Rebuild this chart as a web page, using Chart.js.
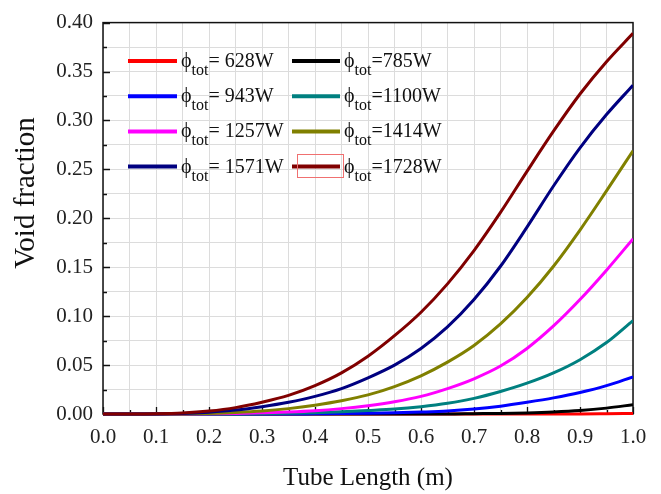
<!DOCTYPE html>
<html>
<head>
<meta charset="utf-8">
<script src="https://cdn.jsdelivr.net/npm/chart.js@4.4.0/dist/chart.umd.min.js"></script>
<style>
  html, body { margin: 0; padding: 0; background: #fff; }
</style>
</head>
<body>
<canvas id="chart" width="661" height="494"></canvas>
<script>
// tube length (m), sampled every 0.05
const lengths = [0, 0.05, 0.1, 0.15, 0.2, 0.25, 0.3, 0.35, 0.4, 0.45, 0.5,
                 0.55, 0.6, 0.65, 0.7, 0.75, 0.8, 0.85, 0.9, 0.95, 1.0];

const legendLabels = ['= 628W', '=785W', '= 943W', '=1100W', '= 1257W', '=1414W', '= 1571W', '=1728W'];

// void fraction for each total heat input
const p628  = [0, 0, 0, 0, 0, 0, 0, 0, 0, 0, 0, 0, 0, 0, 0, 0, 0, 0, 0, 0.0002, 0.0005];
const p785  = [0, 0, 0, 0, 0, 0, 0, 0, 0, 0, 0, 0, 0, 0, 0.0003, 0.0006, 0.0011, 0.002, 0.0035, 0.006, 0.0095];
const p943  = [0, 0, 0, 0, 0, 0, 0, 0, 0.0002, 0.0004, 0.0008, 0.0013, 0.002, 0.003, 0.005, 0.008, 0.012, 0.0165, 0.022, 0.029, 0.038];
const p1100 = [0, 0, 0, 0, 0, 0.0001, 0.0003, 0.0007, 0.0013, 0.0022, 0.0035, 0.005, 0.0075, 0.011, 0.016, 0.023, 0.0315, 0.042, 0.0555, 0.073, 0.0955];
const p1257 = [0, 0, 0, 0, 0.0002, 0.0006, 0.0012, 0.002, 0.0033, 0.0055, 0.0085, 0.0125, 0.018, 0.026, 0.036, 0.049, 0.067, 0.09, 0.117, 0.147, 0.179];
const p1414 = [0, 0, 0, 0.0001, 0.0006, 0.0015, 0.003, 0.0055, 0.009, 0.0135, 0.0195, 0.028, 0.039, 0.053, 0.070, 0.092, 0.119, 0.151, 0.188, 0.228, 0.269];
const p1571 = [0, 0, 0, 0.0004, 0.0018, 0.004, 0.0075, 0.012, 0.018, 0.026, 0.037, 0.050, 0.067, 0.089, 0.117, 0.151, 0.191, 0.233, 0.272, 0.306, 0.336];
const p1728 = [0, 0, 0.0002, 0.001, 0.003, 0.0065, 0.012, 0.019, 0.029, 0.042, 0.059, 0.080, 0.104, 0.133, 0.167, 0.206, 0.248, 0.289, 0.327, 0.360, 0.389];

const series = [p628, p785, p943, p1100, p1257, p1414, p1571, p1728];
const colors = ['#ff0000', '#000000', '#0000ff', '#008080', '#ff00ff', '#808000', '#000080', '#800000'];

const SERIF = '"Liberation Serif", "Times New Roman", serif';

function onStep(v, step) {
  const r = v / step;
  return Math.abs(r - Math.round(r)) < 1e-6;
}

// box round the plot and inward ticks on left / bottom
const framePlugin = {
  id: 'frame',
  beforeDatasetsDraw(chart) {
    const { ctx, chartArea: a, scales: { x, y } } = chart;
    ctx.save();
    ctx.strokeStyle = '#111';
    ctx.lineWidth = 1.5;
    ctx.strokeRect(a.left, a.top, a.right - a.left, a.bottom - a.top);
    ctx.lineWidth = 1.3;
    ctx.beginPath();
    y.ticks.forEach(t => {
      const py = Math.round(y.getPixelForValue(t.value)) + 0.5;
      const len = onStep(t.value, 0.05) ? 7 : 4;
      ctx.moveTo(a.left, py);
      ctx.lineTo(a.left + len, py);
    });
    x.ticks.forEach(t => {
      const px = Math.round(x.getPixelForValue(t.value)) + 0.5;
      const len = onStep(t.value, 0.1) ? 7 : 4;
      ctx.moveTo(px, a.bottom);
      ctx.lineTo(px, a.bottom - len);
    });
    ctx.stroke();

    // y title sits a little above the plot centre in the original
    ctx.fillStyle = '#111';
    ctx.font = '29px ' + SERIF;
    ctx.textAlign = 'center';
    ctx.textBaseline = 'middle';
    ctx.translate(26, 193);
    ctx.rotate(-Math.PI / 2);
    ctx.fillText('Void fraction', 0, 0);
    ctx.restore();
  }
};

// two-column legend with subscripted label, drawn inside the plot
const legendPlugin = {
  id: 'innerLegend',
  afterDraw(chart) {
    const ctx = chart.ctx;
    const lineX = [[128, 177], [292, 340]];
    ctx.save();
    chart.data.datasets.forEach((ds, i) => {
      const col = i % 2, row = Math.floor(i / 2);
      const cy = 61 + row * 35.2;
      ctx.strokeStyle = ds.borderColor;
      ctx.lineWidth = 4;
      ctx.beginPath();
      ctx.moveTo(lineX[col][0], cy);
      ctx.lineTo(lineX[col][1], cy);
      ctx.stroke();

      let tx = lineX[col][1] + 4;
      ctx.fillStyle = '#111';
      ctx.textBaseline = 'alphabetic';
      ctx.textAlign = 'left';
      ctx.font = '20px ' + SERIF;
      ctx.fillText('\u03d5', tx, cy + 6);
      tx += ctx.measureText('\u03d5').width;
      ctx.font = '16px ' + SERIF;
      ctx.fillText('tot', tx, cy + 14);
      tx += ctx.measureText('tot').width;
      ctx.font = '20px ' + SERIF;
      ctx.fillText(legendLabels[i], tx, cy + 6);
    });
    // selection box left round the last sample
    ctx.strokeStyle = '#f07070';
    ctx.lineWidth = 1;
    ctx.strokeRect(297.5, 154.5, 46, 23);
    ctx.restore();
  }
};

const datasets = series.map((vals, i) => ({
  label: legendLabels[i],
  data: lengths.map((x, j) => ({ x: x, y: vals[j] })),
  borderColor: colors[i],
  backgroundColor: colors[i],
  borderWidth: 3,
  pointRadius: 0,
  fill: false,
  cubicInterpolationMode: 'monotone',
  order: series.length - i,
  clip: { left: 0, top: 0, right: 0, bottom: 2 }
}));

new Chart(document.getElementById('chart'), {
  type: 'line',
  data: { datasets },
  options: {
    responsive: false,
    animation: false,
    devicePixelRatio: 1,
    layout: { padding: { left: 0, right: 28, top: 19, bottom: 0 } },
    plugins: {
      legend: { display: false },
      tooltip: { enabled: false }
    },
    scales: {
      x: {
        type: 'linear',
        min: 0,
        max: 1,
        afterFit: s => { s.height = 80; },
        border: { display: false },
        grid: { color: '#dcdcdc', lineWidth: 1, drawTicks: false },
        ticks: {
          stepSize: 0.05,
          autoSkip: false,
          maxRotation: 0,
          padding: 11,
          color: '#222',
          font: { family: SERIF, size: 21 },
          callback: v => onStep(v, 0.1) ? v.toFixed(1) : ''
        },
        title: {
          display: true,
          text: 'Tube Length (m)',
          color: '#111',
          font: { family: SERIF, size: 25 },
          padding: { top: 0, bottom: 1 }
        }
      },
      y: {
        min: 0,
        max: 0.4,
        afterFit: s => { s.width = 103; },
        border: { display: false },
        grid: { color: '#dcdcdc', lineWidth: 1, drawTicks: false },
        ticks: {
          stepSize: 0.025,
          autoSkip: false,
          padding: 10,
          color: '#222',
          font: { family: SERIF, size: 21 },
          callback: v => onStep(v, 0.05) ? v.toFixed(2) : ''
        }
      }
    }
  },
  plugins: [framePlugin, legendPlugin]
});
</script>
</body>
</html>
